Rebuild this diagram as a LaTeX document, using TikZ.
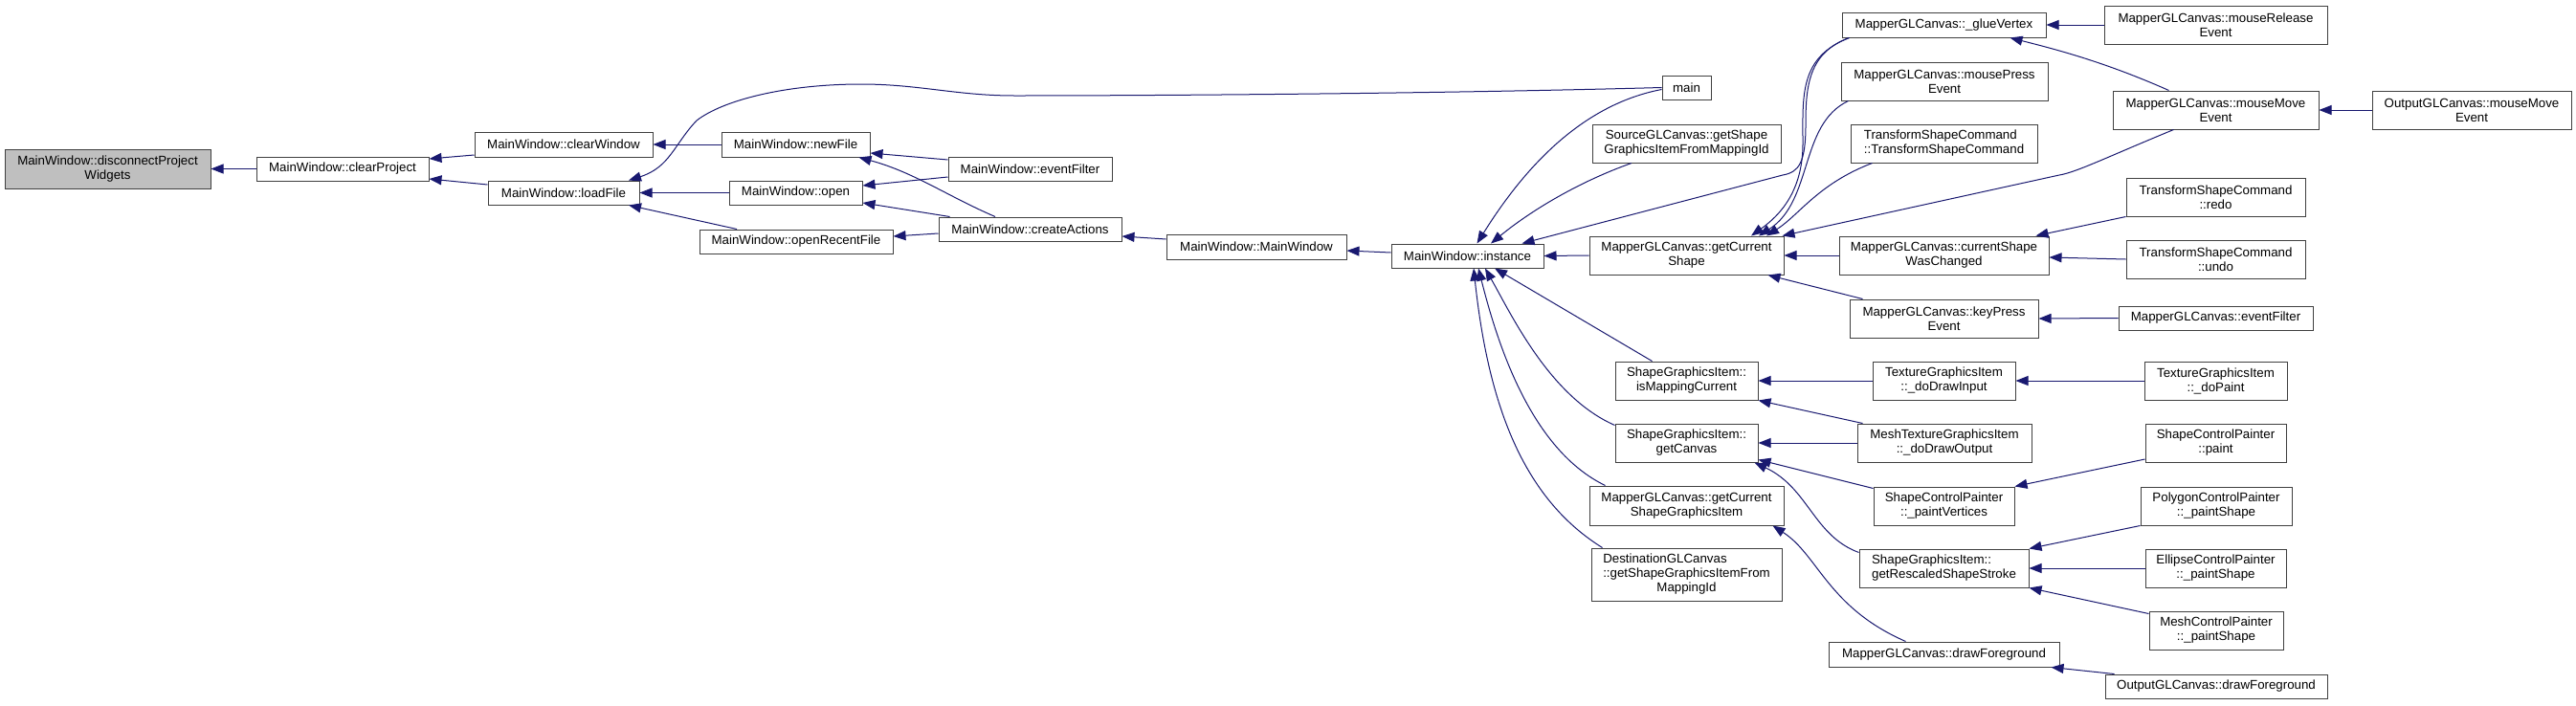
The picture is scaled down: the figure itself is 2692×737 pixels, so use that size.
\documentclass[tikz,border=0pt]{standalone}
\usepackage{fontspec}
\setmainfont{Liberation Sans}
\usetikzlibrary{arrows.meta}
\definecolor{edgeblue}{HTML}{191970}
\definecolor{mainfill}{HTML}{BFBFBF}
\definecolor{boxline}{HTML}{404040}
\begin{document}
\begin{tikzpicture}[x=1pt,y=-1pt,
  box/.style={draw=boxline, line width=1pt, fill=white, inner sep=0pt, align=center, font=\fontsize{13.3}{15}\selectfont},
  calls/.style={draw=edgeblue, line width=1pt, -{Triangle[length=13pt,width=10pt]}}]
\fill[white] (0,0) rectangle (2692,737);
\useasboundingbox (0,0) rectangle (2692,737);
% column 0-1
\node[box, fill=mainfill, minimum width=215pt, minimum height=41pt] (dpw) at (112.5,176.5) {MainWindow::disconnectProject\\Widgets};
\node[box, minimum width=180pt, minimum height=25pt] (cp) at (358,176.5) {MainWindow::clearProject};
% column 2
\node[box, minimum width=186pt, minimum height=26pt] (cw) at (589,151) {MainWindow::clearWindow};
\node[box, minimum width=158pt, minimum height=25pt] (lf) at (589,201.5) {MainWindow::loadFile};
% column 3
\node[box, minimum width=155pt, minimum height=26pt] (nf) at (831.5,151) {MainWindow::newFile};
\node[box, minimum width=139pt, minimum height=25pt] (op) at (831.5,201.5) {MainWindow::open};
\node[box, minimum width=202pt, minimum height=25pt] (orf) at (832,252.5) {MainWindow::openRecentFile};
% column 4
\node[box, minimum width=171pt, minimum height=25pt] (ef) at (1076.5,176.5) {MainWindow::eventFilter};
\node[box, minimum width=191pt, minimum height=25pt] (ca) at (1076.5,239.5) {MainWindow::createActions};
% column 5-6
\node[box, minimum width=188pt, minimum height=26pt] (mw) at (1313,258) {MainWindow::MainWindow};
\node[box, minimum width=159pt, minimum height=25pt] (inst) at (1533.5,267.5) {MainWindow::instance};
% column 7
\node[box, minimum width=51pt, minimum height=25pt] (main) at (1762.5,91.5) {main};
\node[box, minimum width=197pt, minimum height=40pt] (src) at (1762.5,150) {SourceGLCanvas::getShape\\GraphicsItemFromMappingId};
\node[box, minimum width=203pt, minimum height=40pt] (gcs) at (1762.5,267) {MapperGLCanvas::getCurrent\\Shape};
\node[box, minimum width=149pt, minimum height=40pt] (imc) at (1762.5,398) {ShapeGraphicsItem::\\isMappingCurrent};
\node[box, minimum width=149pt, minimum height=40pt] (gc) at (1762.5,463) {ShapeGraphicsItem::\\getCanvas};
\node[box, minimum width=203pt, minimum height=41pt] (gcsgi) at (1762.5,528.5) {MapperGLCanvas::getCurrent\\ShapeGraphicsItem};
\node[box, minimum width=199pt, minimum height=55pt] (dst) at (1762.5,600.5) {\begin{tabular}{@{}l@{}}DestinationGLCanvas\\::getShapeGraphicsItemFrom\\\multicolumn{1}{@{}c@{}}{MappingId}\end{tabular}};
% column 8
\node[box, minimum width=213pt, minimum height=26pt] (glue) at (2031.5,26) {MapperGLCanvas::\_glueVertex};
\node[box, minimum width=216pt, minimum height=40pt] (mpe) at (2032,85) {MapperGLCanvas::mousePress\\Event};
\node[box, minimum width=195pt, minimum height=40pt] (tsc) at (2031.5,150) {\begin{tabular}{@{}l@{}}TransformShapeCommand\\::TransformShapeCommand\end{tabular}};
\node[box, minimum width=219pt, minimum height=40pt] (csw) at (2031.5,267) {MapperGLCanvas::currentShape\\WasChanged};
\node[box, minimum width=197pt, minimum height=40pt] (kpe) at (2031.5,333) {MapperGLCanvas::keyPress\\Event};
\node[box, minimum width=149pt, minimum height=40pt] (tdi) at (2031.5,398) {TextureGraphicsItem\\::\_doDrawInput};
\node[box, minimum width=182pt, minimum height=40pt] (mtd) at (2032,463) {MeshTextureGraphicsItem\\::\_doDrawOutput};
\node[box, minimum width=147pt, minimum height=40pt] (spv) at (2031.5,529) {ShapeControlPainter\\::\_paintVertices};
\node[box, minimum width=177pt, minimum height=40pt] (grs) at (2031.5,594) {\begin{tabular}{@{}l@{}}ShapeGraphicsItem::\\getRescaledShapeStroke\end{tabular}};
\node[box, minimum width=241pt, minimum height=26pt] (mdf) at (2031.5,684) {MapperGLCanvas::drawForeground};
% column 9
\node[box, minimum width=233pt, minimum height=40pt] (mre) at (2315.5,26) {MapperGLCanvas::mouseRelease\\Event};
\node[box, minimum width=215pt, minimum height=40pt] (mme) at (2315.5,115) {MapperGLCanvas::mouseMove\\Event};
\node[box, minimum width=187pt, minimum height=40pt] (redo) at (2315.5,206) {TransformShapeCommand\\::redo};
\node[box, minimum width=187pt, minimum height=40pt] (undo) at (2315.5,271) {TransformShapeCommand\\::undo};
\node[box, minimum width=203pt, minimum height=25pt] (mef) at (2315.5,332.5) {MapperGLCanvas::eventFilter};
\node[box, minimum width=149pt, minimum height=40pt] (tdp) at (2315.5,398) {TextureGraphicsItem\\::\_doPaint};
\node[box, minimum width=147pt, minimum height=40pt] (scp) at (2315.5,463) {ShapeControlPainter\\::paint};
\node[box, minimum width=158pt, minimum height=40pt] (pcp) at (2316,529) {PolygonControlPainter\\::\_paintShape};
\node[box, minimum width=147pt, minimum height=40pt] (ecp) at (2315.5,594) {EllipseControlPainter\\::\_paintShape};
\node[box, minimum width=140pt, minimum height=40pt] (mcp) at (2316,659) {MeshControlPainter\\::\_paintShape};
\node[box, minimum width=232pt, minimum height=25pt] (odf) at (2316,717.5) {OutputGLCanvas::drawForeground};
% column 10
\node[box, minimum width=208pt, minimum height=40pt] (omme) at (2583,115) {OutputGLCanvas::mouseMove\\Event};
% edges
\draw[calls] (cp.west) -- (dpw.east);
\draw[calls] ([yshift=-11pt]cw.west) -- ([yshift=10.5pt]cp.east);
\draw[calls] ([yshift=8.5pt]lf.west) -- ([yshift=-10.5pt]cp.east);
\draw[calls] (nf.west) -- (cw.east);
\draw[calls] (main.west) .. controls (1500,98) and (1200,100) .. (1060,100) .. controls (1000,100) and (960,88) .. (900,88) .. controls (820,88) and (755,105) .. (728,126) .. controls (705,150) and (700,175) .. ([xshift=68pt]lf.north);
\draw[calls] (op.west) -- (lf.east);
\draw[calls] ([xshift=-62pt]orf.north) -- ([xshift=68pt]lf.south);
\draw[calls] ([yshift=9.5pt]ef.west) -- ([yshift=-9pt]nf.east);
\draw[calls] ([xshift=-36.5pt]ca.north) .. controls (990,205) and (955,180) .. ([xshift=-12pt]nf.south east);
\draw[calls] ([yshift=-8.5pt]ef.west) -- ([yshift=7.5pt]op.east);
\draw[calls] ([xshift=12pt]ca.north west) -- ([yshift=-10.5pt]op.east);
\draw[calls] ([yshift=-4.5pt]ca.west) -- ([yshift=5.5pt]orf.east);
\draw[calls] ([yshift=8pt]mw.west) -- ([yshift=-7.5pt]ca.east);
\draw[calls] ([yshift=3.5pt]inst.west) -- ([yshift=-4pt]mw.east);
\draw[calls] ([yshift=-2pt]main.west) .. controls (1650,110) and (1590,180) .. ([xshift=10pt]inst.north);
\draw[calls] ([xshift=-57.5pt]src.south) .. controls (1650,190) and (1600,220) .. ([xshift=24.5pt]inst.north);
\draw[calls] ([xshift=8pt]glue.south west) .. controls (1890,55) and (1887,90) .. (1887,130) .. controls (1887,170) and (1880,180) .. (1863,183) -- ([xshift=57pt]inst.north);
\draw[calls] ([xshift=8pt]glue.south west) .. controls (1880,60) and (1884,100) .. (1884,150) .. controls (1884,200) and (1860,225) .. ([xshift=67.5pt]gcs.north);
\draw[calls] ([xshift=8pt]mpe.south west) .. controls (1880,130) and (1895,210) .. ([xshift=75.5pt]gcs.north);
\draw[calls] ([xshift=23pt]tsc.south west) .. controls (1900,192) and (1880,225) .. ([xshift=83.5pt]gcs.north);
\draw[calls] ([xshift=64pt]mme.south west) .. controls (2200,165) and (2170,180) .. (2152,183) -- ([xshift=-2pt]gcs.north east);
\draw[calls] ([xshift=59pt]mme.north west) .. controls (2200,65) and (2150,52) .. ([xshift=-38pt]glue.south east);
\draw[calls] (mre.west) -- (glue.east);
\draw[calls] (omme.west) -- (mme.east);
\draw[calls] (gcs.west) -- (inst.east);
\draw[calls] (csw.west) -- (gcs.east);
\draw[calls] ([xshift=14pt]kpe.north west) -- ([xshift=-17pt]gcs.south east);
\draw[calls] (redo.south west) -- ([xshift=-14pt]csw.north east);
\draw[calls] (undo.west) -- ([yshift=-2pt]csw.east);
\draw[calls] (mef.west) -- (kpe.east);
\draw[calls] ([xshift=39pt]imc.north west) -- ([xshift=28.5pt]inst.south);
\draw[calls] ([yshift=-2pt]gc.north west) .. controls (1620,415) and (1580,330) .. ([xshift=18.5pt]inst.south);
\draw[calls] ([xshift=17pt]gcsgi.north west) .. controls (1600,470) and (1565,360) .. ([xshift=11.5pt]inst.south);
\draw[calls] ([xshift=12pt]dst.north west) .. controls (1590,520) and (1555,420) .. ([xshift=6.5pt]inst.south);
\draw[calls] (tdi.west) -- (imc.east);
\draw[calls] ([xshift=6pt]mtd.north west) -- (imc.south east);
\draw[calls] (mtd.west) -- (gc.east);
\draw[calls] ([yshift=-2pt]spv.north west) -- ([yshift=3pt]gc.south east);
\draw[calls] ([yshift=-4pt]grs.north west) .. controls (1895,560) and (1890,510) .. ([xshift=-4pt]gc.south east);
\draw[calls] ([xshift=81pt]mdf.north west) .. controls (1910,635) and (1900,580) .. ([xshift=-12pt]gcsgi.south east);
\draw[calls] (tdp.west) -- (tdi.east);
\draw[calls] ([yshift=-17pt]scp.west) -- (spv.north east);
\draw[calls] (pcp.south west) -- (grs.north east);
\draw[calls] (ecp.west) -- (grs.east);
\draw[calls] ([yshift=-3pt]mcp.north west) -- (grs.south east);
\draw[calls] ([xshift=10pt]odf.north west) -- ([xshift=-9pt]mdf.south east);
\end{tikzpicture}
\end{document}
